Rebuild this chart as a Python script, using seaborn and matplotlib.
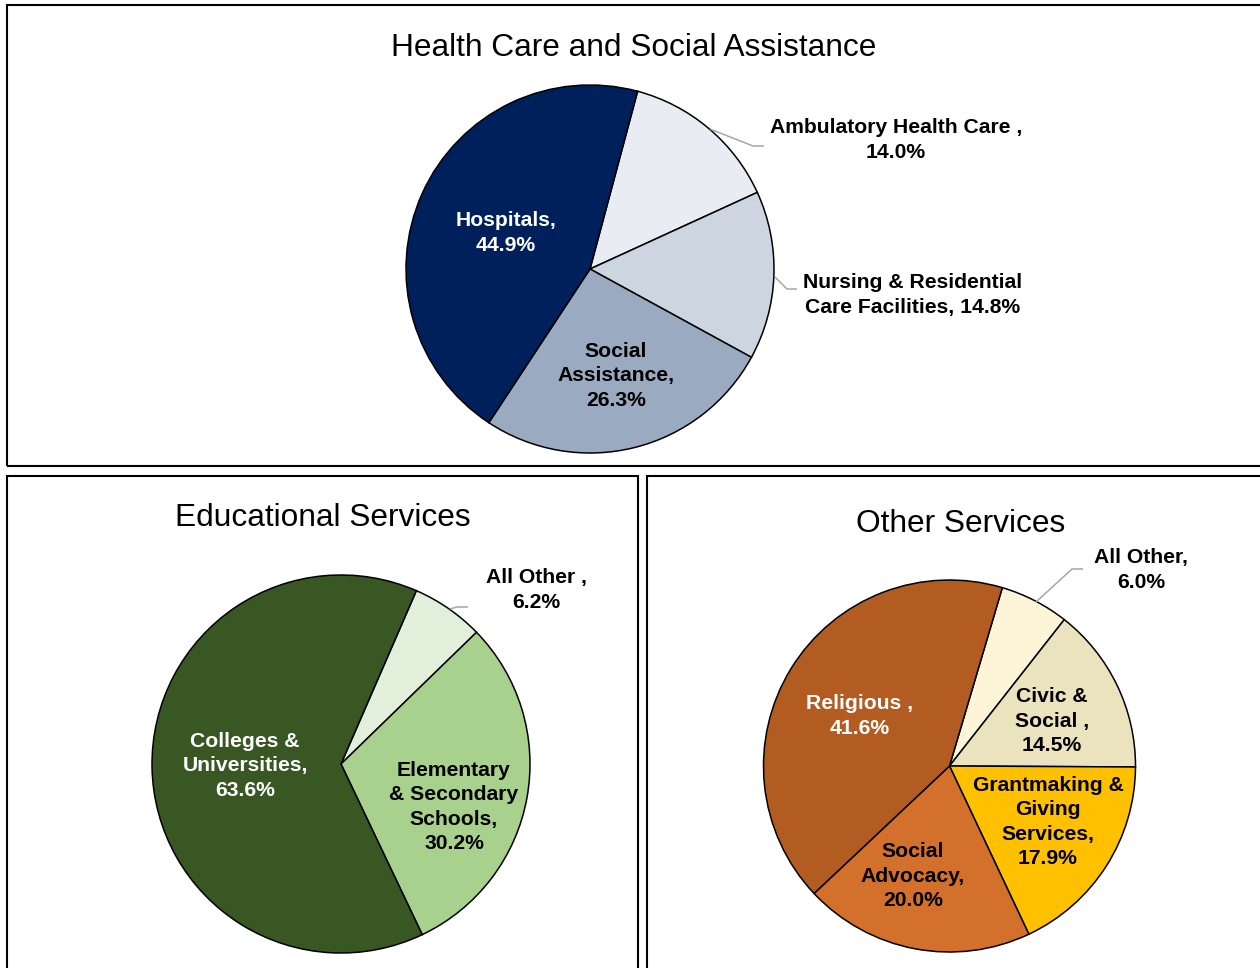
import matplotlib
matplotlib.use("Agg")
import matplotlib.pyplot as plt
from matplotlib.patches import Rectangle
import seaborn as sns

# ---------------- data ----------------
health_title = "Health Care and Social Assistance"
health_categories = ["Ambulatory Health Care", "Nursing & Residential Care Facilities",
                     "Social Assistance", "Hospitals"]
health_shares = [14.0, 14.8, 26.3, 44.9]
health_label_text = ["Ambulatory Health Care ,\n{:.1f}%",
                     "Nursing & Residential\nCare Facilities, {:.1f}%",
                     "Social\nAssistance,\n{:.1f}%",
                     "Hospitals,\n{:.1f}%"]

edu_title = "Educational Services"
edu_categories = ["All Other", "Elementary & Secondary Schools", "Colleges & Universities"]
edu_shares = [6.2, 30.2, 63.6]
edu_label_text = ["All Other ,\n{:.1f}%",
                  "Elementary\n& Secondary\nSchools,\n{:.1f}%",
                  "Colleges &\nUniversities,\n{:.1f}%"]

other_title = "Other Services"
other_categories = ["All Other", "Civic & Social", "Grantmaking & Giving Services",
                    "Social Advocacy", "Religious"]
other_shares = [6.0, 14.5, 17.9, 20.0, 41.6]
other_label_text = ["All Other,\n{:.1f}%",
                    "Civic &\nSocial ,\n{:.1f}%",
                    "Grantmaking &\nGiving\nServices,\n{:.1f}%",
                    "Social\nAdvocacy,\n{:.1f}%",
                    "Religious ,\n{:.1f}%"]

# ---------------- styling ----------------
sns.set_theme(style="white")
plt.rcParams["font.family"] = ["Liberation Sans", "DejaVu Sans"]

health_colors = ["#E9EDF3", "#CCD5E0", "#9AAAC0", "#00205C"]
health_text_colors = ["black", "black", "black", "white"]
edu_colors = ["#E2EFDA", "#A9D18E", "#385723"]
edu_text_colors = ["black", "black", "white"]
other_colors = ["#FEF5D9", "#EAE3BD", "#FFC000", "#D3702C", "#B35C22"]
other_text_colors = ["black", "black", "black", "black", "white"]

W, H = 1260, 968
fig = plt.figure(figsize=(W / 100, H / 100), dpi=100)
fig.patch.set_facecolor("white")

LABEL_SIZE = 15.2
TITLE_SIZE = 22.8
LEADER = "#A6A6A6"


def frame(x0, y0, x1, y1):
    fig.patches.append(Rectangle((x0 / W, 1 - y1 / H), (x1 - x0) / W, (y1 - y0) / H,
                                 transform=fig.transFigure, fill=False,
                                 edgecolor="black", linewidth=1.5, clip_on=False))


def draw_pie(cx, cy, r, shares, colors, start, label_fmt, label_pos, text_colors,
             leaders):
    ax = fig.add_axes([(cx - r) / W, 1 - (cy + r) / H, 2 * r / W, 2 * r / H])
    ax.pie(shares, colors=colors, startangle=start, counterclock=False, radius=1,
           wedgeprops=dict(edgecolor="black", linewidth=1.1))
    ax.set_xlim(-1, 1)
    ax.set_ylim(-1, 1)
    ax.set_aspect("equal")
    ax.axis("off")

    def to_data(px, py):
        return (px - cx) / r, (cy - py) / r

    for fmt, v, (px, py), tc in zip(label_fmt, shares, label_pos, text_colors):
        x, y = to_data(px, py)
        ax.text(x, y, fmt.format(v), ha="center", va="center", multialignment="center",
                fontsize=LABEL_SIZE, fontweight="bold", color=tc, linespacing=1.37,
                clip_on=False)
    for pts in leaders:
        xs, ys = zip(*[to_data(px, py) for px, py in pts])
        ax.plot(xs, ys, color=LEADER, linewidth=1.1, clip_on=False,
                solid_capstyle="butt")
    return ax


# panel frames
frame(7, 5, 1275, 466)
frame(7, 476, 638, 985)
frame(647, 476, 1275, 985)

# Health care and social assistance
draw_pie(590, 269, 184, health_shares, health_colors, 75, health_label_text,
         [(896, 140), (913, 295), (616, 376), (506, 233)], health_text_colors,
         [[(710, 129), (753, 146), (764, 146)],
          [(775, 277), (787, 289), (797, 289)]])
fig.text(634 / W, 1 - 48 / H, health_title, ha="center", va="center",
         fontsize=TITLE_SIZE, color="black")

# Educational services
draw_pie(341, 764, 189, edu_shares, edu_colors, 66.5, edu_label_text,
         [(536, 590), (454, 807), (245, 766)], edu_text_colors,
         [[(450, 609), (457, 607), (468, 607)]])
fig.text(323 / W, 1 - 518 / H, edu_title, ha="center", va="center",
         fontsize=TITLE_SIZE, color="black")

# Other services
draw_pie(949.5, 766, 186, other_shares, other_colors, 73.5, other_label_text,
         [(1141, 570), (1052, 721), (1048, 822), (913, 876), (860, 716)],
         other_text_colors,
         [[(1036, 602), (1072, 569), (1083, 569)]])
fig.text(961 / W, 1 - 524 / H, other_title, ha="center", va="center",
         fontsize=TITLE_SIZE, color="black")

fig.savefig("out.png", dpi=100, facecolor="white")
